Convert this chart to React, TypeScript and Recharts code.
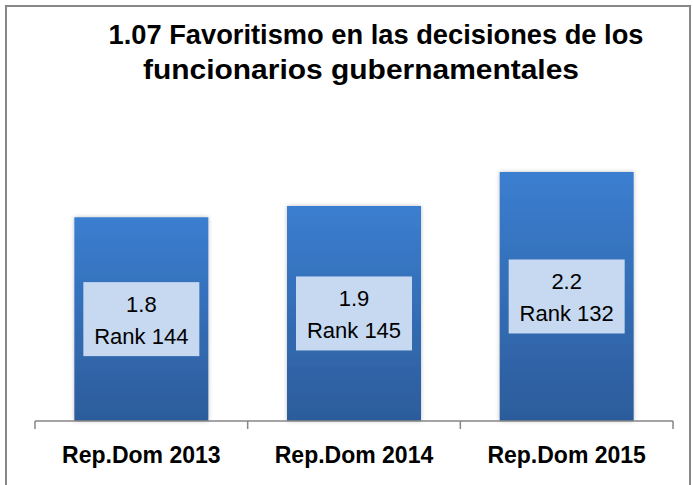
import React from 'react';
import { BarChart, Bar, XAxis, YAxis, LabelList } from 'recharts';

const categories = ['Rep.Dom 2013', 'Rep.Dom 2014', 'Rep.Dom 2015'];
const scores = [1.8, 1.9, 2.2];
const ranks = [144, 145, 132];
const titleLines = ['1.07 Favoritismo en las decisiones de los', 'funcionarios gubernamentales'];

const data = categories.map((c, i) => ({ name: c, score: scores[i], rank: ranks[i] }));

const FONT = '"Liberation Sans", Arial, sans-serif';
const AXIS = '#868686';

const AxisTick = (props: any) => {
  const { x, y, payload, index } = props;
  const half = payload && payload.offset ? payload.offset : 0;
  const count = props.visibleTicksCount ?? categories.length;
  return (
    <g>
      <line x1={x - half} x2={x - half} y1={y} y2={y + 8} stroke={AXIS} strokeWidth={1.5} />
      {index === count - 1 && (
        <line x1={x + half} x2={x + half} y1={y} y2={y + 8} stroke={AXIS} strokeWidth={1.5} />
      )}
      <text x={x} y={y + 42} textAnchor="middle" fontFamily={FONT} fontWeight="bold" fontSize={23} fill="#000">
        {payload.value}
      </text>
    </g>
  );
};

const BoxLabel = (props: any) => {
  const { x, y, width, height, index, value } = props;
  const cx = x + width / 2;
  const cy = y + height / 2;
  const bw = width - 18;
  const bh = 74;
  return (
    <g>
      <rect x={cx - bw / 2} y={cy - bh / 2} width={bw} height={bh} fill="#c6d9f0" />
      <text x={cx} y={cy - 7} textAnchor="middle" fontFamily={FONT} fontSize={22} fill="#000">
        {Number(value).toFixed(1)}
      </text>
      <text x={cx} y={cy + 25} textAnchor="middle" fontFamily={FONT} fontSize={22} fill="#000">
        {`Rank ${ranks[index]}`}
      </text>
    </g>
  );
};

export default function App() {
  return (
    <div style={{ position: 'relative', width: 693, height: 485, overflow: 'hidden', background: '#fff' }}>
      <style>{`body{margin:0}`}</style>
      <BarChart
        width={693}
        height={485}
        data={data}
        margin={{ top: 138, right: 20, bottom: 14, left: 35 }}
        barCategoryGap="18.5%"
      >
        <defs>
          <linearGradient id="barGrad" x1="0" y1="0" x2="0" y2="1">
            <stop offset="0%" stopColor="#3b7ed0" />
            <stop offset="100%" stopColor="#2c5c9b" />
          </linearGradient>
          <filter id="barShadow" x="-10%" y="-10%" width="120%" height="120%">
            <feDropShadow dx="0" dy="0" stdDeviation="2" floodColor="#000" floodOpacity="0.25" />
          </filter>
        </defs>
        <YAxis hide domain={[0, 2.5]} />
        <XAxis
          dataKey="name"
          height={50}
          axisLine={{ stroke: AXIS, strokeWidth: 1.5 }}
          tickLine={false}
          tickSize={0}
          tickMargin={0}
          tick={<AxisTick />}
          interval={0}
        />
        <Bar dataKey="score" fill="url(#barGrad)" filter="url(#barShadow)" isAnimationActive={false}>
          <LabelList dataKey="score" content={<BoxLabel />} />
        </Bar>
      </BarChart>
      <svg width={693} height={485} style={{ position: 'absolute', left: 0, top: 0, pointerEvents: 'none' }}>
        <rect x={6} y={6} width={684} height={520} fill="none" stroke="#878787" strokeWidth={2} />
        <text x={376} y={44} textAnchor="middle" fontFamily={FONT} fontWeight="bold" fontSize={27} fill="#000"
          textLength={535} lengthAdjust="spacingAndGlyphs">
          {titleLines[0]}
        </text>
        <text x={361} y={79} textAnchor="middle" fontFamily={FONT} fontWeight="bold" fontSize={27} fill="#000"
          textLength={436} lengthAdjust="spacingAndGlyphs">
          {titleLines[1]}
        </text>
      </svg>
    </div>
  );
}
